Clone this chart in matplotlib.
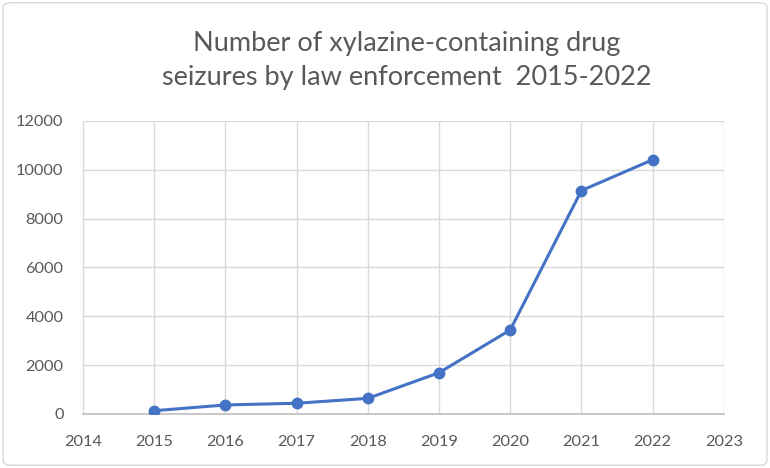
import matplotlib.pyplot as plt
from matplotlib.patches import FancyBboxPatch

years = [2015, 2016, 2017, 2018, 2019, 2020, 2021, 2022]
seizures = [135, 370, 440, 640, 1690, 3440, 9150, 10410]
title = "Number of xylazine-containing drug\nseizures by law enforcement  2015-2022"

plt.rcParams['font.family'] = ['Lato', 'DejaVu Sans']
grey = '#595959'
blue = '#4472C4'

fig = plt.figure(figsize=(7.7, 4.68), dpi=100)
ax = fig.add_axes([0.1078, 0.1154, 0.8322, 0.6261])

border = FancyBboxPatch((0.004, 0.006), 0.992, 0.988, boxstyle="round,pad=0,rounding_size=0.01",
                        transform=fig.transFigure, fill=False, edgecolor='#D9D9D9', linewidth=1)
fig.patches.append(border)

ax.plot(years, seizures, color=blue, linewidth=2.2, marker='o', markersize=7.5, zorder=3)

ax.set_xlim(2014, 2023)
ax.set_ylim(0, 12000)
ax.set_xticks(range(2014, 2024))
ax.set_yticks(range(0, 12001, 2000))
ax.grid(True, color='#D9D9D9', linewidth=1)
ax.set_axisbelow(True)

for s in ['top', 'right']:
    ax.spines[s].set_visible(False)
ax.spines['left'].set_color('#D9D9D9')
ax.spines['bottom'].set_color('#BFBFBF')
ax.spines['bottom'].set_linewidth(1.2)
ax.tick_params(length=0, colors=grey, labelsize=11.8)
ax.tick_params(axis='x', pad=15)
ax.tick_params(axis='y', pad=14)

fig.text(0.528, 0.871, title, ha='center', va='center', fontsize=19.5,
         color=grey, linespacing=1.45)

fig.savefig('out.png', dpi=100)
